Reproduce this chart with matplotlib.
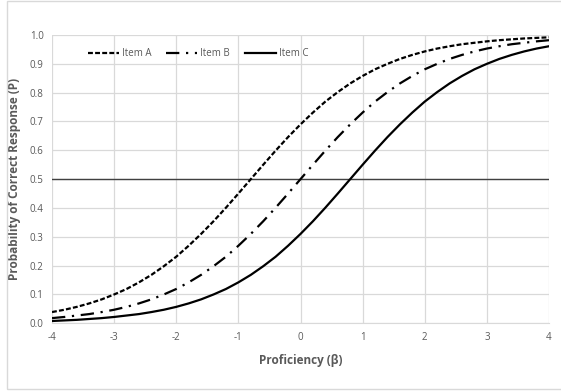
import matplotlib
matplotlib.use('Agg')
import matplotlib.pyplot as plt
from matplotlib.patches import Rectangle

# proficiency values (beta)
proficiency = [-4.0, -3.8, -3.6, -3.4, -3.2, -3.0, -2.8, -2.6, -2.4, -2.2,
               -2.0, -1.8, -1.6, -1.4, -1.2, -1.0, -0.8, -0.6, -0.4, -0.2,
               0.0, 0.2, 0.4, 0.6, 0.8, 1.0, 1.2, 1.4, 1.6, 1.8,
               2.0, 2.2, 2.4, 2.6, 2.8, 3.0, 3.2, 3.4, 3.6, 3.8, 4.0]

item_a = [.039, .047, .057, .069, .083, .100, .119, .142, .168, .198,
          .231, .269, .310, .354, .401, .450, .500, .550, .599, .646,
          .690, .731, .769, .802, .832, .858, .881, .900, .917, .931,
          .943, .953, .961, .968, .973, .978, .982, .985, .988, .990, .992]

item_b = [.018, .022, .027, .032, .039, .047, .057, .069, .083, .100,
          .119, .142, .168, .198, .231, .269, .310, .354, .401, .450,
          .500, .550, .599, .646, .690, .731, .769, .802, .832, .858,
          .881, .900, .917, .931, .943, .953, .961, .968, .973, .978, .982]

item_c = [.008, .010, .012, .015, .018, .022, .027, .032, .039, .047,
          .057, .069, .083, .100, .119, .142, .168, .198, .231, .269,
          .310, .354, .401, .450, .500, .550, .599, .646, .690, .731,
          .769, .802, .832, .858, .881, .900, .917, .931, .943, .953, .961]

cut_off = 0.5

x_ticks = [-4, -3, -2, -1, 0, 1, 2, 3, 4]
y_ticks = [0.0, 0.1, 0.2, 0.3, 0.4, 0.5, 0.6, 0.7, 0.8, 0.9, 1.0]

plt.rcParams['font.family'] = ['Open Sans', 'DejaVu Sans']
plt.rcParams['axes.unicode_minus'] = False
grey = '#595959'
grid_grey = '#d9d9d9'

fig = plt.figure(figsize=(5.61, 3.91), dpi=100)
fig.patches.append(Rectangle((7 / 561, 1 - 389 / 391), 0.999, 388 / 391,
                             transform=fig.transFigure, fill=False,
                             edgecolor=grid_grey, lw=1.0))

ax = fig.add_axes([52 / 561, 1 - 323.3 / 391, 497 / 561, 288.3 / 391])

ax.plot(proficiency, item_a, color='black', lw=1.6, ls=(0, (2.2, 1.0)),
        label='Item A')
ax.plot(proficiency, item_b, color='black', lw=1.6,
        ls=(0, (6, 3, 1, 3)), label='Item B')
ax.plot(proficiency, item_c, color='black', lw=1.6, label='Item C')
ax.axhline(cut_off, color='#404040', lw=1.0, zorder=1)

ax.set_xlim(-4, 4)
ax.set_ylim(0, 1)
ax.set_xticks(x_ticks)
ax.set_yticks(y_ticks)
ax.set_yticklabels(['%.1f' % v for v in y_ticks])
ax.grid(True, color=grid_grey, lw=0.9)
ax.set_axisbelow(True)
for s in ['top', 'right', 'left']:
    ax.spines[s].set_visible(False)
ax.spines['bottom'].set_color(grid_grey)
ax.tick_params(length=0, colors=grey, labelsize=7, pad=6)

ax.set_xlabel('Proficiency (β)', color=grey, fontsize=8.5, fontweight='bold',
              labelpad=8)
ax.set_ylabel('Probability of Correct Response (P)', color=grey, fontsize=8.5,
              fontweight='bold', labelpad=6)

leg = ax.legend(loc='upper left', bbox_to_anchor=(0.055, 0.985), ncol=3,
                frameon=False, fontsize=7, handlelength=3.2,
                handletextpad=0.3, columnspacing=1.5)
for t in leg.get_texts():
    t.set_color(grey)

fig.savefig('out.png', dpi=100)
